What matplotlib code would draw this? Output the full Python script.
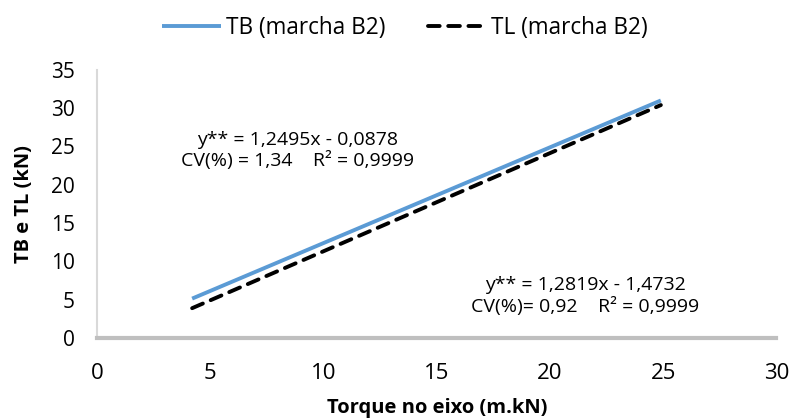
import matplotlib
matplotlib.use("Agg")
import matplotlib.pyplot as plt

plt.rcParams['font.family'] = ['Open Sans', 'DejaVu Sans']

# torque no eixo (m.kN) - ends of the fitted lines
x_tb = [4.2, 24.9]
tb = [5.16, 31.0]
x_tl = [4.2, 24.9]
tl = [3.91, 30.4]

eq_tb = "y** = 1,2495x - 0,0878\nCV(%) = 1,34    R\u00b2 = 0,9999"
eq_tl = "y** = 1,2819x - 1,4732\nCV(%)= 0,92    R\u00b2 = 0,9999"

x_ticks = [0, 5, 10, 15, 20, 25, 30]
y_ticks = [0, 5, 10, 15, 20, 25, 30, 35]

fig = plt.figure(figsize=(8.02, 4.18), dpi=100)
ax = fig.add_axes([0.121, 0.191, 0.847, 0.642])

ax.plot(x_tb, tb, color='#5b9bd5', lw=2.8, label='TB (marcha B2)',
        solid_capstyle='butt')
ax.plot(x_tl, tl, color='black', lw=2.8, ls=(0, (3.0, 2.2)),
        dash_capstyle='round', label='TL (marcha B2)')

ax.set_xlim(0, 30)
ax.set_ylim(0, 35)
ax.set_xticks(x_ticks)
ax.set_yticks(y_ticks)
ax.tick_params(axis='y', length=0, labelsize=15, pad=16)
ax.tick_params(axis='x', length=0, labelsize=16, pad=18)

for s in ['top', 'right']:
    ax.spines[s].set_visible(False)
ax.spines['left'].set_color('#d9d9d9')
ax.spines['left'].set_linewidth(1.5)
ax.spines['bottom'].set_color('#bfbfbf')
ax.spines['bottom'].set_linewidth(3)

ax.set_xlabel('Torque no eixo (m.kN)', fontsize=14.5, fontweight='bold', labelpad=10)
ax.set_ylabel('TB e TL (kN)', fontsize=14.5, fontweight='bold', labelpad=12)

ax.text(8.84, 24.5, eq_tb, ha='center', va='center', fontsize=14, linespacing=1.15)
ax.text(21.56, 5.5, eq_tl, ha='center', va='center', fontsize=14, linespacing=1.15)

fig.legend(loc='upper center', bbox_to_anchor=(0.505, 1.01), ncol=2, frameon=False,
           fontsize=16.3, handlelength=2.6, handletextpad=0.2, columnspacing=1.9)

fig.savefig('out.png', dpi=100)
